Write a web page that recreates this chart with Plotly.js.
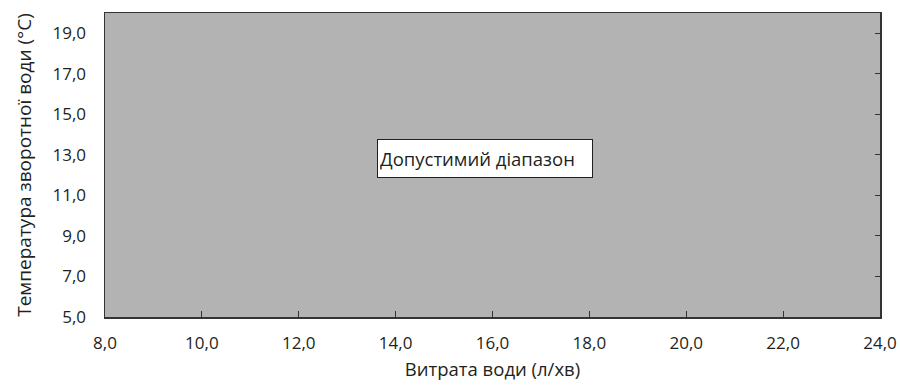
<!DOCTYPE html>
<html><head><meta charset="utf-8">
<script src="https://cdn.plot.ly/plotly-3.0.1.min.js"></script>
<style>body{margin:0;background:#fff}#c{width:900px;height:385px}</style>
</head><body><div id="c"></div>
<script>
// Allowed operating range (polygon corners)
const rangeX = [8, 24, 24, 8, 8];
const rangeY = [5, 5, 20, 20, 5];
const xTicks = [8, 10, 12, 14, 16, 18, 20, 22, 24];
const xTickText = ["8,0","10,0","12,0","14,0","16,0","18,0","20,0","22,0","24,0"];
const yTicks = [5, 7, 9, 11, 13, 15, 17, 19];
const yTickText = ["5,0","7,0","9,0","11,0","13,0","15,0","17,0","19,0"];
const labelText = "Допустимий діапазон";
const labelPos = [15.85, 12.8];
const xTitle = "Витрата води (л/хв)";
const yTitle = "Температура зворотної води (°C)";

const font = "'Open Sans', 'Noto Sans', sans-serif";
const col = '#231f20';
const traces = [
  {x: rangeX, y: rangeY, type: 'scatter', mode: 'lines', fill: 'toself',
   fillcolor: '#b3b3b4', line: {width: 0, color: '#b3b3b4'}, hoverinfo: 'skip', showlegend: false},
  {x: [8], y: [5], yaxis: 'y2', type: 'scatter', mode: 'markers',
   marker: {opacity: 0}, hoverinfo: 'skip', showlegend: false}
];
const layout = {
  width: 900, height: 385,
  margin: {l: 105, r: 20, t: 13, b: 68},
  paper_bgcolor: '#fff', plot_bgcolor: '#fff',
  font: {family: font, size: 17, color: col},
  showlegend: false,
  xaxis: {
    range: [8, 24], tickvals: xTicks, ticktext: xTickText,
    ticks: 'inside', ticklen: 6, tickwidth: 1.2, tickcolor: '#333',
    showline: true, mirror: true, linecolor: '#333', linewidth: 1.5,
    showgrid: false, zeroline: false, ticklabelstandoff: 10,
    tickfont: {family: font, size: 17, color: col},
    title: {text: xTitle, font: {family: font, size: 18.5, color: col}, standoff: 10}
  },
  yaxis: {
    range: [5, 20], tickvals: yTicks, ticktext: yTickText,
    ticks: '', showline: true, mirror: true, linecolor: '#333', linewidth: 1.5,
    showgrid: false, zeroline: false, ticklabelstandoff: 14,
    tickfont: {family: font, size: 17, color: col},
    title: {text: yTitle, font: {family: font, size: 19, color: col}, standoff: 16}
  },
  yaxis2: {
    overlaying: 'y', side: 'right', range: [5, 20], tickvals: yTicks,
    showticklabels: false, ticks: 'inside', ticklen: 5, tickwidth: 1, tickcolor: '#333',
    showgrid: false, zeroline: false, showline: false
  },
  annotations: [{
    x: labelPos[0], y: labelPos[1], xref: 'x', yref: 'y', text: labelText,
    showarrow: false, bgcolor: '#fff', bordercolor: col, borderwidth: 1,
    borderpad: 2, width: 210, height: 33, align: 'left', valign: 'middle',
    font: {family: font, size: 18.5, color: col}
  }]
};
Plotly.newPlot('c', traces, layout, {staticPlot: true, displayModeBar: false});
</script></body></html>
